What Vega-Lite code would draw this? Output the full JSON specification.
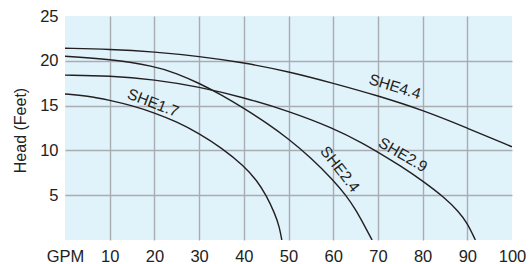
{
  "$schema": "https://vega.github.io/schema/vega-lite/v6.json",
  "width": 447,
  "height": 224,
  "autosize": {"type": "none"},
  "padding": {"left": 65, "top": 16, "right": 18, "bottom": 24},
  "background": "white",
  "config": {
    "view": {"fill": "#e0f2fa", "stroke": null},
    "font": "Liberation Sans"
  },
  "datasets": {
    "curves": [
      {"series": "SHE4.4", "gpm": 0, "head": 21.4},
      {"series": "SHE4.4", "gpm": 10, "head": 21.3},
      {"series": "SHE4.4", "gpm": 20, "head": 21.0},
      {"series": "SHE4.4", "gpm": 30, "head": 20.5},
      {"series": "SHE4.4", "gpm": 40, "head": 19.8},
      {"series": "SHE4.4", "gpm": 50, "head": 18.8},
      {"series": "SHE4.4", "gpm": 60, "head": 17.5},
      {"series": "SHE4.4", "gpm": 70, "head": 16.1},
      {"series": "SHE4.4", "gpm": 80, "head": 14.5},
      {"series": "SHE4.4", "gpm": 90, "head": 12.5},
      {"series": "SHE4.4", "gpm": 100, "head": 10.4},

      {"series": "SHE2.9", "gpm": 0, "head": 18.4},
      {"series": "SHE2.9", "gpm": 10, "head": 18.35},
      {"series": "SHE2.9", "gpm": 20, "head": 17.9},
      {"series": "SHE2.9", "gpm": 30, "head": 17.1},
      {"series": "SHE2.9", "gpm": 40, "head": 15.9},
      {"series": "SHE2.9", "gpm": 50, "head": 14.4},
      {"series": "SHE2.9", "gpm": 60, "head": 12.5},
      {"series": "SHE2.9", "gpm": 67, "head": 10.7},
      {"series": "SHE2.9", "gpm": 70, "head": 9.8},
      {"series": "SHE2.9", "gpm": 75, "head": 8.3},
      {"series": "SHE2.9", "gpm": 80, "head": 6.6},
      {"series": "SHE2.9", "gpm": 85, "head": 4.7},
      {"series": "SHE2.9", "gpm": 88, "head": 3.2},
      {"series": "SHE2.9", "gpm": 90, "head": 1.9},
      {"series": "SHE2.9", "gpm": 91.8, "head": 0},

      {"series": "SHE2.4", "gpm": 0, "head": 20.5},
      {"series": "SHE2.4", "gpm": 10, "head": 20.2},
      {"series": "SHE2.4", "gpm": 20, "head": 19.4},
      {"series": "SHE2.4", "gpm": 25, "head": 18.6},
      {"series": "SHE2.4", "gpm": 30, "head": 17.5},
      {"series": "SHE2.4", "gpm": 35, "head": 16.2},
      {"series": "SHE2.4", "gpm": 40, "head": 14.7},
      {"series": "SHE2.4", "gpm": 45, "head": 13.1},
      {"series": "SHE2.4", "gpm": 50, "head": 11.3},
      {"series": "SHE2.4", "gpm": 55, "head": 9.2},
      {"series": "SHE2.4", "gpm": 60, "head": 6.7},
      {"series": "SHE2.4", "gpm": 63, "head": 4.9},
      {"series": "SHE2.4", "gpm": 65, "head": 3.4},
      {"series": "SHE2.4", "gpm": 67, "head": 1.6},
      {"series": "SHE2.4", "gpm": 68.7, "head": 0},

      {"series": "SHE1.7", "gpm": 0, "head": 16.3},
      {"series": "SHE1.7", "gpm": 5, "head": 16.1},
      {"series": "SHE1.7", "gpm": 10, "head": 15.6},
      {"series": "SHE1.7", "gpm": 15, "head": 15.0},
      {"series": "SHE1.7", "gpm": 20, "head": 14.2},
      {"series": "SHE1.7", "gpm": 25, "head": 13.2},
      {"series": "SHE1.7", "gpm": 30, "head": 11.9},
      {"series": "SHE1.7", "gpm": 35, "head": 10.3},
      {"series": "SHE1.7", "gpm": 40, "head": 8.3},
      {"series": "SHE1.7", "gpm": 43, "head": 6.6},
      {"series": "SHE1.7", "gpm": 45, "head": 5.0},
      {"series": "SHE1.7", "gpm": 47, "head": 2.9},
      {"series": "SHE1.7", "gpm": 48, "head": 1.4},
      {"series": "SHE1.7", "gpm": 48.5, "head": 0}
    ],
    "labels": [
      {"label": "SHE1.7", "gpm": 19.7, "head": 15.3, "angle": 21},
      {"label": "SHE2.4", "gpm": 61.5, "head": 7.9, "angle": 52},
      {"label": "SHE4.4", "gpm": 73.8, "head": 17.1, "angle": 17},
      {"label": "SHE2.9", "gpm": 75.6, "head": 9.5, "angle": 30}
    ]
  },
  "layer": [
    {
      "data": {"name": "curves"},
      "mark": {"type": "line", "interpolate": "basis", "color": "#231f20", "strokeWidth": 1.4, "clip": true},
      "encoding": {
        "x": {
          "field": "gpm", "type": "quantitative",
          "scale": {"domain": [0, 100], "nice": false},
          "axis": {
            "title": null,
            "values": [0, 10, 20, 30, 40, 50, 60, 70, 80, 90, 100],
            "labelExpr": "datum.value == 0 ? 'GPM' : datum.label",
            "ticks": false,
            "domain": false,
            "grid": true,
            "gridColor": "#a8adb2",
            "gridWidth": 1.4,
            "gridOpacity": {"condition": {"test": "datum.value == 0 || datum.value == 100", "value": 0}, "value": 1},
            "labelFontSize": 16.5,
            "labelColor": "#222222",
            "labelPadding": 8,
            "labelDx": 3,
            "labelFlush": false,
            "labelOverlap": false
          }
        },
        "y": {
          "field": "head", "type": "quantitative",
          "scale": {"domain": [0, 25], "nice": false},
          "axis": {
            "title": "Head (Feet)",
            "values": [5, 10, 15, 20, 25],
            "ticks": false,
            "domain": false,
            "grid": true,
            "gridColor": "#a8adb2",
            "gridWidth": 1.4,
            "gridOpacity": {"condition": {"test": "datum.value == 25", "value": 0}, "value": 1},
            "labelFontSize": 16.5,
            "labelColor": "#222222",
            "labelPadding": 7,
            "labelFlush": false,
            "labelOverlap": false,
            "titleFontSize": 16,
            "titleFontWeight": "normal",
            "titleColor": "#222222",
            "titleAngle": -90,
            "titleX": -45,
            "titleY": 114,
            "titleBaseline": "middle",
            "titleAlign": "center"
          }
        },
        "detail": {"field": "series"}
      }
    },
    {
      "data": {"name": "labels"},
      "mark": {"type": "text", "fontSize": 15.5, "color": "#231f20", "align": "center", "baseline": "middle"},
      "encoding": {
        "x": {"field": "gpm", "type": "quantitative"},
        "y": {"field": "head", "type": "quantitative"},
        "text": {"field": "label"},
        "angle": {"field": "angle", "type": "quantitative", "scale": null}
      }
    }
  ]
}
